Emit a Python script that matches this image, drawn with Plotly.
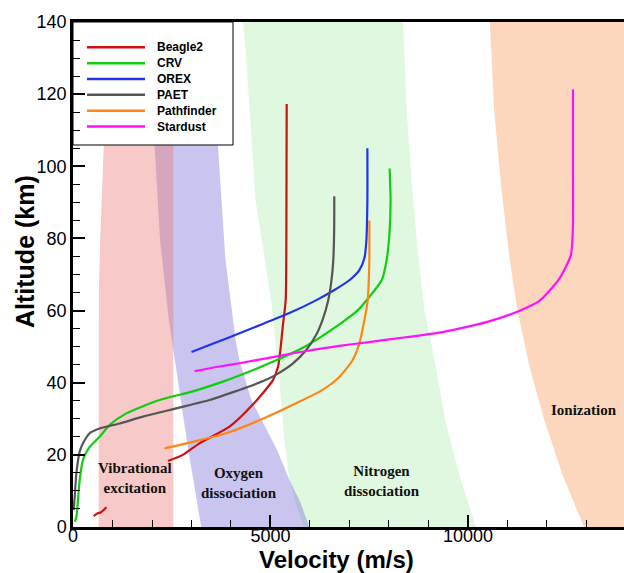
import plotly.graph_objects as go

# ---- entry trajectories: velocity (m/s) and altitude (km) ----
beagle2_v = [523, 625, 701, 776, 845, None,
             2404, 2780, 3200, 3963, 4558, 5067, 5190, 5250, 5310, 5385, 5400, 5405, 5410]
beagle2_h = [3.0, 3.8, 4.0, 4.7, 5.5, None,
             18.3, 20.0, 23.2, 27.8, 34.0, 40.8, 44.4, 49.0, 55.5, 63.0, 75.0, 95.0, 117.3]

crv_v = [50, 86, 126, 169, 253, 422, 675, 928, 1350, 2192, 3034, 3795, 4213, 5057, 5900,
         6744, 7200, 7480, 7815, 7940, 8016, 8040, 8016]
crv_h = [1.5, 2.9, 7.5, 13.0, 18.6, 22.2, 25.0, 28.3, 31.5, 35.2, 37.6, 40.3, 42.0, 45.8, 50.2,
         56.2, 60.0, 63.5, 68.4, 74.0, 82.0, 90.6, 99.4]

orex_v = [3001, 3584, 4216, 4848, 5480, 6163, 6618, 6997, 7250, 7377, 7428, 7453, 7453]
orex_h = [48.5, 51.0, 53.7, 56.5, 59.3, 62.9, 65.7, 68.4, 71.2, 74.5, 79.5, 90.6, 105.0]

paet_v = [18, 43, 86, 169, 253, 422, 675, 1181, 1770, 2614, 3456, 4213, 4551, 4890, 5200,
          5563, 5900, 6154, 6321, 6455, 6540, 6590, 6612, 6615]
paet_h = [4.7, 8.4, 14.9, 20.9, 23.2, 26.0, 27.3, 28.7, 30.6, 32.9, 35.2, 38.0, 39.3, 40.8, 42.6,
          45.3, 49.0, 53.2, 57.5, 62.5, 68.0, 74.0, 82.3, 91.7]

pathfinder_v = [2319, 3034, 3879, 4720, 5650, 6321, 6744, 7081, 7250, 7377, 7462, 7478, 7503, 7503]
pathfinder_h = [21.8, 23.6, 26.0, 29.6, 34.3, 38.0, 41.6, 46.3, 50.9, 57.3, 62.9, 65.7, 74.0, 85.0]

stardust_v = [3077, 3709, 4215, 5057, 5901, 6744, 7585, 8430, 9272, 9778, 10536, 11294, 11800,
              12306, 12602, 12655, 12658, 12658]
stardust_h = [43.2, 44.5, 45.4, 47.1, 48.8, 50.2, 51.4, 52.6, 53.9, 55.0, 57.0, 59.9, 62.6,
              68.7, 75.3, 82.8, 100.0, 121.3]

series_names = ["Beagle2", "CRV", "OREX", "PAET", "Pathfinder", "Stardust"]
series_colors = ["#cc1111", "#11cc11", "#2233ee", "#555555", "#ff8515", "#ff11ff"]
series_v = [beagle2_v, crv_v, orex_v, paet_v, pathfinder_v, stardust_v]
series_h = [beagle2_h, crv_h, orex_h, paet_h, pathfinder_h, stardust_h]

# ---- thermochemical regimes (closed outlines in velocity/altitude) ----
vib_v = [650, 648, 640, 655, 690, 735, 780, 2540, 2540]
vib_h = [0, 30, 50, 65, 80, 95, 105.8, 105.8, 0]

oxy_v = [2066, 2200, 2420, 2657, 2907, 3246,
         5985, 5732, 5478, 5170, 4770, 4517, 4213, 4115, 3990, 3860, 3760, 3668]
oxy_h = [105.8, 80, 58, 40.7, 22.2, 0,
         0, 7.5, 13, 21.3, 29.6, 35.2, 46.3, 51.8, 62.9, 74, 90.6, 105.8]

nit_v = [4306, 4390, 4621, 5016, 5226, 5352, 5478, 5650, 5850,
         10200, 9777, 9420, 9180, 8900, 8737, 8575, 8445, 8361]
nit_h = [140, 129.4, 90.6, 62.9, 40.7, 24.1, 13, 6, 0,
         0, 14.6, 29.8, 44.9, 60.1, 75.3, 95.5, 115.7, 140]

ion_v = [10553, 10662, 10830, 11041, 11252, 11547, 11927, 12390, 12938, 15000, 15000]
ion_h = [140, 115.7, 95.5, 75.3, 60.1, 44.9, 29.8, 14.6, 0, 0, 140]

regions = [
    (ion_v, ion_h, "rgba(245,140,70,0.35)"),
    (nit_v, nit_h, "rgba(100,220,100,0.20)"),
    (oxy_v, oxy_h, "rgba(100,90,210,0.35)"),
    (vib_v, vib_h, "rgba(235,120,120,0.40)"),
]

region_labels = ["Vibrational<br>excitation", "Oxygen<br>dissociation",
                 "Nitrogen<br>dissociation", "Ionization"]
region_label_v = [1573, 4190, 7823, 12938]
region_label_h = [13.6, 12.3, 12.7, 32.3]

fig = go.Figure()

for rv, rh, col in regions:
    fig.add_trace(go.Scatter(x=rv, y=rh, mode="lines", fill="toself", fillcolor=col,
                             line=dict(width=0, color=col), hoverinfo="skip",
                             showlegend=False))

for name, col, v, h in zip(series_names, series_colors, series_v, series_h):
    fig.add_trace(go.Scatter(x=v, y=h, mode="lines", name=name,
                             line=dict(color=col, width=2.2, shape="spline", smoothing=0.6),
                             showlegend=False))

sans = "Arial, Liberation Sans, sans-serif"
serif = "Times New Roman, Liberation Serif, serif"

annotations = []
for txt, v, h in zip(region_labels, region_label_v, region_label_h):
    annotations.append(dict(x=v, y=h, xref="x", yref="y", text="<b>" + txt + "</b>",
                            showarrow=False, font=dict(family=serif, size=15, color="#111"),
                            xanchor="center", yanchor="middle"))

# legend panel drawn inside the upper-left corner
shapes = []
plot_l, plot_t, plot_w, plot_h = 73, 22, 551, 505
def px_x(p):
    return (p - plot_l) / plot_w
def px_y(p):
    return (plot_t + plot_h - p) / plot_h

shapes.append(dict(type="rect", xref="paper", yref="paper", x0=0, x1=px_x(233),
                   y0=px_y(145), y1=1, line=dict(color="black", width=1),
                   fillcolor="rgba(0,0,0,0)", layer="above"))
for i, (name, col) in enumerate(zip(series_names, series_colors)):
    yy = px_y(47.3 + i * 15.85)
    shapes.append(dict(type="line", xref="paper", yref="paper", x0=px_x(87), x1=px_x(145),
                       y0=yy, y1=yy, line=dict(color=col, width=2.5), layer="above"))
    annotations.append(dict(x=px_x(155), y=yy, xref="paper", yref="paper",
                            text="<b>" + name + "</b>", showarrow=False,
                            xanchor="left", yanchor="middle",
                            font=dict(family=sans, size=12, color="black")))

annotations.append(dict(x=px_x(336), y=px_y(559), xref="paper", yref="paper",
                        text="<b>Velocity (m/s)</b>", showarrow=False,
                        xanchor="center", yanchor="middle",
                        font=dict(family=sans, size=24, color="black")))
annotations.append(dict(x=px_x(25), y=px_y(252), xref="paper", yref="paper",
                        text="<b>Altitude (km)</b>", showarrow=False, textangle=-90,
                        xanchor="center", yanchor="middle",
                        font=dict(family=sans, size=25, color="black")))

fig.update_layout(
    width=624, height=573, autosize=False,
    margin=dict(l=plot_l, r=0, t=plot_t, b=573 - plot_t - plot_h, pad=0),
    paper_bgcolor="white", plot_bgcolor="white",
    showlegend=False,
    annotations=annotations, shapes=shapes,
    font=dict(family=sans, color="black"),
)

fig.update_xaxes(range=[0, 13950], showgrid=False, zeroline=False,
                 showline=True, linecolor="black", linewidth=2.5, mirror=True,
                 ticks="inside", ticklen=12, tickwidth=2, tickcolor="black",
                 tickvals=[0, 5000, 10000], ticktext=["0", "5000", "10000"],
                 ticklabelstandoff=-9,
                 tickfont=dict(family=sans, size=18, color="black"),
                 minor=dict(dtick=1000, tick0=0, ticks="inside", ticklen=7,
                            tickwidth=1, tickcolor="black"))
fig.update_yaxes(range=[0, 140], showgrid=False, zeroline=False,
                 showline=True, linecolor="black", linewidth=2.5,
                 ticks="inside", ticklen=12, tickwidth=2, tickcolor="black",
                 dtick=20, tick0=0,
                 tickfont=dict(family=sans, size=18, color="black"),
                 minor=dict(dtick=5, tick0=0, ticks="inside", ticklen=7,
                            tickwidth=1, tickcolor="black"))

fig.write_html("out.html")
